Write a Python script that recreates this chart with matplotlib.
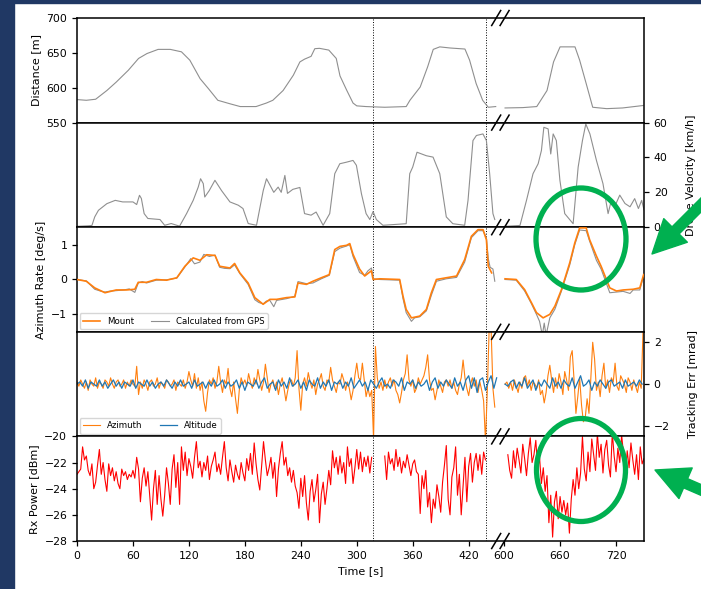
import matplotlib.pyplot as plt
import numpy as np
from matplotlib.patches import Ellipse, FancyArrowPatch, Rectangle
from matplotlib.lines import Line2D

nan = np.nan

# ---- data ----
# distance [m]
dist_t = [0, 10, 20, 32, 42, 55, 66, 75, 87, 100, 112, 121, 132, 141, 151, 164, 175, 192, 203, 210,
          221, 232, 239, 244, 251, 255, 260, 270, 278, 282, 289, 296, 300, 310, 330, 353, 357, 368,
          376, 382, 389, 400, 416, 421, 428, 435, 441, 449, 520,
          601, 620, 635, 646, 653, 660, 676, 681, 688, 695, 710, 727, 749]
dist_v = [583, 582, 583.5, 596, 608, 625, 642, 649, 655, 655, 651.5, 639.5, 613, 598.6, 582, 577, 573,
          573, 578, 582, 596, 618, 637, 641, 645, 656, 656.5, 654, 642, 617, 597, 578, 574, 573, 572,
          573, 582, 601, 630, 655, 658.6, 657, 655.5, 639.5, 606, 582, 572, 573, nan,
          571, 571.5, 573, 596, 637, 658.6, 658.6, 639.5, 606, 572, 570, 571, 574.5]

# drone velocity [km/h]
vel_t = [0, 12, 16, 19, 23, 32, 41, 49, 60, 64, 67, 69, 72, 76, 89, 94, 101, 110, 117.5, 124.6, 130,
         132.5, 135.4, 137, 141.8, 147.9, 155, 164, 173, 178, 183.6, 192.5, 199.7, 203.2, 211, 215.7,
         219, 222.9, 225.7, 231.4, 239, 244, 251, 256.4, 263.9, 271, 276.4, 281.8, 289, 296, 299.6,
         305, 310, 314, 317.5, 321, 328, 353, 356.8, 360, 364.6, 374.6, 381.8, 389, 396, 403, 415.7,
         419.3, 424.6, 428.3, 435.3, 439, 442.5, 446, 448, 520,
         601, 617, 624, 631, 636.5, 640, 642.6, 647.2, 650, 652.6, 656, 659.8, 665, 674, 679.4, 684,
         687.6, 692, 699, 706, 711.5, 715, 718.5, 724, 729.6, 735, 740, 744, 747.5, 750]
vel_v = [0.5, 0.8, 1, 5.9, 9.7, 13.5, 15.4, 14.5, 14.5, 13, 18.3, 16.5, 7.8, 5, 4.4, 1.1, 2.1, 0.6, 7.8,
         15.4, 23, 27.8, 25, 17.3, 21, 26.9, 21, 14.5, 12.6, 10.7, 2.1, 1.1, 21, 27.8, 20, 23, 20, 29.7,
         19.4, 21.7, 22.8, 7.8, 6.9, 8.7, 1.1, 7.8, 30.7, 36.4, 37.3, 38.3, 35.5, 19.2, 7.8, 4.4, 9,
         4.4, 1.1, 2, 30.7, 34.5, 43, 41, 40.2, 30.7, 5.9, 2, 1.1, 15.4, 49.7, 52.6, 53.5, 49.7, 30.7,
         7.8, 4.4, nan,
         0.5, 1, 15.4, 30.7, 36.4, 44, 57.3, 56.4, 42, 53.5, 49.7, 27, 7.8, 2, 34.5, 49.7, 59.2, 53.5,
         38.3, 25, 7.8, 15.4, 11.7, 18.4, 13.6, 11.7, 16.4, 10.7, 15.4, 10]

# azimuth rate [deg/s] - mount
mount_t = [0, 10, 19, 30, 42, 53, 62, 65.7, 74.6, 85, 96, 107, 115.7, 124.6, 131.8, 139, 148, 153, 164,
           169, 174.6, 183.5, 190.7, 199.6, 206.8, 214, 224.6, 233.6, 237, 246, 253, 262, 270.5, 276.4,
           282, 289, 292.5, 296, 303, 308.5, 315.7, 317.5, 324.6, 346, 349.6, 353, 358.6, 367.5, 374.6,
           380, 385.4, 396, 407, 415.7, 422.9, 430, 435.4, 439, 441, 444.6, 520,
           601, 613, 622, 629.4, 634.7, 641.8, 649, 654.5, 661.5, 670.4, 675.8, 681, 688, 691.7, 699,
           704, 713.3, 720.5, 727.7, 738.4, 745.5, 749.6]
mount_v = [0, -0.05, -0.24, -0.38, -0.3, -0.3, -0.28, -0.08, -0.08, 0, -0.02, 0.05, 0.38, 0.62, 0.55,
           0.71, 0.69, 0.38, 0.33, 0.46, 0.19, -0.1, -0.52, -0.71, -0.57, -0.57, -0.52, -0.5, -0.1,
           -0.14, -0.05, 0.05, 0.14, 0.86, 0.95, 0.98, 1.03, 0.72, 0.3, 0.1, 0.25, 0.0, 0.02, 0.0,
           -0.48, -0.86, -1.1, -1.05, -0.86, -0.38, 0, 0.05, 0.1, 0.57, 1.24, 1.43, 1.43, 1.14, 0.38,
           0.19, nan,
           0.02, 0, -0.29, -0.67, -0.95, -1.1, -1.0, -0.76, -0.29, 0.48, 1.05, 1.48, 1.48, 1.14, 0.67,
           0.38, -0.24, -0.33, -0.3, -0.28, -0.24, 0.14]

# azimuth rate [deg/s] - calculated from GPS
gps_t = [0, 10, 19, 25, 30, 36, 42, 50, 56, 62, 65.7, 70, 74.6, 85, 96, 107, 115.7, 122, 126, 131.8,
         136, 142, 148, 153, 158, 164, 169, 174.6, 183.5, 190.7, 195, 199.6, 203, 206.8, 211, 214,
         224.6, 233.6, 237, 246, 253, 262, 270.5, 276.4, 282, 289, 292.5, 296, 303, 308.5, 312, 315.7,
         318, 324.6, 346, 349.6, 353, 358.6, 362, 367.5, 374.6, 380, 385.4, 396, 407, 415.7, 422.9,
         430, 435.4, 439, 441, 443, 446, 448, 520,
         601, 613, 622, 629.4, 634.7, 638, 641, 643, 645, 649, 654.5, 661.5, 670.4, 675.8, 681, 688,
         691.7, 699, 704, 713.3, 720.5, 727.7, 735, 738.4, 745.5, 749.6]
gps_v = [0, -0.04, -0.28, -0.33, -0.36, -0.33, -0.32, -0.3, -0.27, -0.37, -0.1, -0.06, -0.1, -0.02,
         -0.01, 0.04, 0.36, 0.6, 0.45, 0.5, 0.72, 0.66, 0.7, 0.35, 0.32, 0.31, 0.42, 0.17, -0.14, -0.58,
         -0.66, -0.7, -0.62, -0.6, -0.78, -0.6, -0.55, -0.48, -0.06, -0.12, -0.1, 0.02, 0.12, 0.8, 0.9,
         0.96, 1.0, 0.66, 0.2, 0.12, 0.25, 0.33, 0.02, 0.0, -0.02, -0.55, -0.95, -1.2, -1.1, -1.07,
         -0.9, -0.45, -0.05, 0.02, 0.06, 0.5, 1.2, 1.4, 1.4, 1.2, 0.6, 0.35, 0.3, -0.05, nan,
         0.0, -0.02, -0.33, -0.7, -1.0, -1.2, -1.6, -1.25, -1.6, -1.1, -0.85, -0.33, 0.42, 1.0, 1.42,
         1.4, 1.1, 0.55, 0.3, -0.38, -0.36, -0.34, -0.4, -0.3, -0.3, 0.1]

# tracking error azimuth [mrad], 2 s steps
az_err_a = [0.1, -0.1, 0.2, 0.0, -0.2, 0.1, -0.3, 0.2, 0.0, -0.1, 0.3, -0.2, 0.1, 0.0, -0.2, 0.2,
            0.1, -0.1, 0.3, 0.0, -0.2, 0.1, 0.2, -0.1, 0.0, 0.2, -0.2, 0.1, -0.1, 0.2, 0.0, -0.1,
            0.85, -0.5, 0.1, -0.2, 0.2, 0.0, -0.3, 0.1, 0.2, -0.1, 0.0, 0.3, -0.2, 0.1, 0.0, -0.2,
            0.2, 0.1, -0.1, 0.0, 0.2, -0.3, 0.1, 0.0, -0.1, 0.2, -0.2, 0.1, 0.6, 0.2, -0.1, 0.5,
            -0.2, 0.3, -0.3, 0.1, -0.8, -1.3, -0.4, 0.2, 0.0, 0.3, -0.2, 0.1, 0.85, 0.1, -0.4, 0.2,
            0.0, 0.75, -0.2, -0.6, 0.1, -0.7, -1.4, -0.3, 0.3, 0.0, 0.2, -0.1, 0.5, 0.1, -0.2, 0.3,
            0.0, 0.7, 0.2, -0.3, 0.1, 0.95, 0.3, -0.4, 0.0, 0.2, -0.2, 0.1, -0.5, 0.0, 0.3, -0.2,
            -0.8, -0.3, 0.1, 0.2, -0.1, 0.3, 1.6, -0.2, -1.25, 0.0, 0.3, -0.1, 0.55, 0.1, -0.2, 0.2,
            -0.5, 0.0, 0.2, 0.5, -0.1, -0.3, 0.2, 0.1, 0.8, 0.2, -0.1, -0.4, 0.1, 0.0, 0.5, 0.2,
            -0.3, 0.1, -0.2, -0.75, -0.3, 0.4, 1.0, 0.3, 0.2, 1.0, 0.2, -0.6, -0.2, -0.6, -0.3, -2.6,
            1.8, 0.3, -0.2, 0.1, -0.3, 0.2, -0.2, 0.1, 0.3, -0.1, 0.2, -0.3, -0.5, -0.9, -0.4, 0.2,
            0.5, 1.4, 0.2, -0.1, 0.2, -0.4, -0.2, 0.3, 0.0, 0.2, 0.4, 0.8, 1.4, 0.2, -0.3, -0.2,
            -0.75, -0.3, 0.2, -0.1, -0.4, 0.1, 0.2, -0.1, 0.2, -0.2, 0.1, -0.3, -0.5, 0.0, 0.3, 1.15,
            0.3, -0.2, -0.55, 0.0, 0.3, -0.1, 0.2, -0.4, 0.1, -0.3, -0.8, -2.7, -0.3, 2.7, 2.7, -0.2,
            -1.1]
az_err_b = [0.0, 0.1, -0.2, 0.1, -0.3, 0.2, -0.1, -0.4, 0.1, -0.2, 0.3, 0.4, -0.1, 0.2, -0.3, 0.1,
            0.0, -0.2, 0.2, -0.5, -0.3, -0.9, -0.4, 0.4, 0.9, 0.2, -0.4, 0.3, -0.2, 0.5, 0.1, -0.5,
            0.6, 0.2, -0.3, 1.3, 1.6, 0.2, -1.4, -0.6, 0.3, -1.0, -1.8, -1.6, -0.7, -1.4, 0.3, 2.0,
            1.2, -0.3, 0.1, -0.6, 0.4, 1.0, -0.2, 0.2, -0.4, 0.3, 0.1, 1.0, -0.1, -0.3, 0.4, 0.2,
            0.0, -0.4, 0.3, 0.1, -0.3, 0.2, -0.1, -0.4, 0.1, -0.2, 2.6]

# tracking error altitude [mrad], 3 s steps
alt_err_a = [0.0, 0.1, -0.1, 0.2, -0.2, 0.1, 0.0, -0.1, 0.2, -0.1,
             0.1, -0.2, 0.0, 0.2, -0.1, 0.1, -0.2, 0.1, 0.0, -0.1,
             0.2, -0.2, 0.1, 0.0, -0.1, 0.2, -0.1, 0.1, -0.2, 0.0,
             0.1, -0.1, 0.2, 0.0, -0.2, 0.1, -0.1, 0.2, -0.1, 0.0,
             0.1, -0.2, 0.2, -0.1, 0.0, 0.1, -0.2, 0.1, -0.1, 0.2,
             -0.1, 0.0, 0.2, -0.2, 0.1, -0.1, 0.0, 0.2, -0.2, 0.1,
             -0.3, 0.1, 0.0, -0.1, 0.2, -0.2, 0.1, 0.3, -0.2, 0.0,
             0.1, -0.3, 0.2, -0.1, 0.1, -0.2, 0.3, -0.1, 0.0, 0.2,
             -0.2, 0.1, -0.3, 0.2, 0.0, -0.1, 0.3, -0.2, 0.1, -0.1,
             0.2, -0.3, 0.1, 0.0, 0.2, -0.2, 0.1, -0.1, 0.3, -0.2,
             0.0, 0.2, -0.1, 0.1, -0.3, 0.2, 0.0, -0.2, 0.1, 0.3,
             -0.1, 0.0, -0.2, 0.2, 0.1, -0.1, 0.3, -0.3, 0.1, 0.0,
             0.2, -0.2, 0.1, -0.1, 0.0, 0.2, -0.3, 0.1, 0.3, -0.2,
             0.1, -0.1, 0.2, 0.0, -0.2, 0.3, -0.1, 0.1, -0.3, 0.2,
             0.4, -0.2, 0.3, -0.4, 0.2, 0.3, -0.3, 0.1, 0.4, -0.2,
             0.3]
alt_err_b = [0.0, -0.1, 0.1, 0.2, -0.2, 0.1, -0.1, 0.3, -0.2, 0.0,
             0.2, -0.3, 0.1, -0.1, 0.2, 0.0, -0.2, 0.3, -0.1, 0.1,
             -0.2, 0.2, 0.0, -0.1, 0.3, -0.2, 0.1, 0.4, -0.1, 0.0,
             0.2, -0.3, 0.1, -0.1, 0.2, 0.0, -0.2, 0.1, 0.2, -0.1,
             0.0, 0.1, -0.2, 0.2, -0.1, 0.0, 0.1, -0.1, 0.2, 0.0]

# received power [dBm], 2 s steps
rx_a = [-22.9, -22.7, -22.5, -20.8, -21.8, -21.5, -22.6, -23.0, -22.1, -24.0, -23.5, -22.2, -21.0,
        -22.9, -22.0, -23.3, -24.2, -22.1, -23.0, -22.4, -23.4, -22.7, -23.6, -24.0, -22.5, -23.0,
        -22.7, -23.3, -22.9, -23.1, -22.6, -23.2, -21.6, -22.5, -25.0, -23.2, -22.4, -23.8, -22.7,
        -24.6, -26.4, -24.0, -22.6, -25.2, -23.0, -24.8, -26.1, -24.5, -22.4, -23.6, -25.2, -22.5,
        -21.4, -23.9, -22.0, -25.2, -20.8, -22.6, -21.2, -23.0, -21.7, -22.3, -23.2, -21.6, -20.4,
        -22.4, -21.9, -23.1, -22.0, -22.6, -21.5, -23.3, -22.3, -21.8, -21.2, -22.7, -22.1, -22.9,
        -21.6, -20.4, -22.4, -23.4, -21.8, -22.7, -23.5, -22.2, -22.9, -23.3, -22.0, -22.8, -23.4,
        -21.7, -22.6, -21.3, -22.9, -20.5, -22.1, -23.3, -24.1, -22.2, -20.4, -21.8, -23.0, -22.4,
        -21.6, -23.2, -22.0, -24.6, -22.5, -21.3, -20.4, -22.2, -21.6, -23.0, -22.4, -23.5, -22.6,
        -23.8, -24.3, -25.5, -23.2, -24.6, -23.0, -25.1, -26.4, -24.2, -23.3, -25.0, -24.1, -22.9,
        -26.6, -24.4, -23.5, -25.2, -24.0, -22.6, -23.7, -21.1, -22.4, -21.6, -22.9, -21.5, -22.8,
        -22.0, -23.6, -20.8, -22.3, -21.7, -23.6, -22.4, -21.0, -22.5, -21.2, -22.7, -21.6, -22.3,
        -21.5, -22.8, -21.6]
rx_b = [-21.5, -23.3, -21.2, -22.1, -21.7, -22.6, -21.0, -22.3, -21.6, -22.8, -21.9, -22.4, -21.4,
        -22.2, -23.0, -22.1, -21.8, -22.7, -22.9, -25.9, -23.0, -24.0, -22.6, -25.4, -24.3, -26.6,
        -24.8, -25.5, -23.7, -24.6, -25.8, -23.5, -22.2, -20.7, -24.8, -26.0, -23.1, -22.4, -20.8,
        -24.5, -22.9, -26.0, -23.8, -21.6, -25.0, -22.3, -21.3, -23.5, -22.0, -21.3, -22.6, -21.4,
        -22.9, -21.2, -21.8]
rx_c = [-21.4, -22.6, -23.2, -21.1, -22.4, -20.9, -21.8, -22.8, -20.6, -21.7, -23.0, -21.3, -20.1,
        -22.0, -21.4, -20.3, -22.5, -21.6, -23.6, -22.4, -24.2, -23.0, -26.6, -24.5, -27.7, -25.0,
        -24.2, -26.3, -24.6, -25.8, -24.9, -26.0, -25.1, -27.4, -24.8, -23.3, -24.5, -22.4, -24.0,
        -22.8, -20.0, -22.5, -23.4, -21.2, -22.7, -20.2, -21.4, -22.6, -19.8, -21.6, -20.6, -22.8,
        -21.0, -20.3, -22.2, -23.1, -19.7, -21.5, -22.7, -20.9, -22.0, -19.9, -21.3, -23.0, -21.1,
        -22.4, -20.5, -21.8, -22.9, -21.4, -23.3, -20.8, -22.1, -21.7]

events = [317, 438.6]
time_ticks = [0, 60, 120, 180, 240, 300, 360, 420, 600, 660, 720]


def series(start, step, vals):
    return start + step * np.arange(len(vals)), np.array(vals)


def join(*parts):
    ts, vs = [], []
    for t, v in parts:
        ts += [t, [t[-1] + 1]]
        vs += [v, [nan]]
    return np.concatenate(ts), np.concatenate(vs)


az_t, az_v = join(series(0, 2, az_err_a), series(601, 2, az_err_b))
alt_t, alt_v = join(series(0, 3, alt_err_a), series(601, 3, alt_err_b))
rx_t, rx_v = join(series(0, 2, rx_a), series(330, 2, rx_b), series(604, 2, rx_c))

# broken time axis: 452..598 s squeezed into a few seconds
L_BRK, R_BRK, GAP = 452.0, 598.0, 4.0


def fwd(t):
    t = np.asarray(t, dtype=float)
    return np.where(t <= L_BRK, t,
                    np.where(t >= R_BRK, t - (R_BRK - L_BRK) + GAP,
                             L_BRK + (t - L_BRK) * GAP / (R_BRK - L_BRK)))


def inv(u):
    u = np.asarray(u, dtype=float)
    return np.where(u <= L_BRK, u,
                    np.where(u >= L_BRK + GAP, u + (R_BRK - L_BRK) - GAP,
                             L_BRK + (u - L_BRK) * (R_BRK - L_BRK) / GAP))


W, H = 701, 589
fig, axs = plt.subplots(5, 1, figsize=(W / 100, H / 100), dpi=100, sharex=True,
                        gridspec_kw=dict(hspace=0))
fig.subplots_adjust(left=77 / W, right=644 / W, top=1 - 18 / H, bottom=1 - 541 / H)

GRAY = '#8f8f8f'
ORANGE = '#ff7f0e'
BLUE = '#1f77b4'

a1, a2, a3, a4, a5 = axs
a1.plot(dist_t, dist_v, color=GRAY, lw=0.8)
a1.set_ylim(550, 700)
a1.set_yticks([550, 600, 650, 700])
a1.set_ylabel('Distance [m]')

a2.plot(vel_t, vel_v, color=GRAY, lw=0.8)
a2.set_ylim(0, 60)
a2.set_yticks([0, 20, 40, 60])
a2.yaxis.tick_right()
a2.yaxis.set_label_position('right')
a2.set_ylabel('Drone Velocity [km/h]', labelpad=13)

a3.plot(mount_t, mount_v, color=ORANGE, lw=1.2, label='Mount', zorder=3)
a3.plot(gps_t, gps_v, color=GRAY, lw=0.8, label='Calculated from GPS', zorder=2)
a3.set_ylim(-1.5, 1.5)
a3.set_yticks([-1, 0, 1])
a3.set_ylabel('Azimuth Rate [deg/s]')
a3.legend(loc='lower left', ncol=2, fontsize=6.2, borderaxespad=0.3)

a4.plot(az_t, az_v, color=ORANGE, lw=0.8, label='Azimuth')
a4.plot(alt_t, alt_v, color=BLUE, lw=0.9, label='Altitude')
a4.set_ylim(-2.5, 2.5)
a4.set_yticks([-2, 0, 2])
a4.yaxis.tick_right()
a4.yaxis.set_label_position('right')
a4.set_ylabel('Tracking Err [mrad]', labelpad=13)
a4.legend(loc='lower left', ncol=2, fontsize=6.2, borderaxespad=0.3)

a5.plot(rx_t, rx_v, color='red', lw=0.8)
a5.set_ylim(-28, -20)
a5.set_yticks([-28, -26, -24, -22, -20])
a5.set_ylabel('Rx Power [dBm]')
a5.set_xlabel('Time [s]', fontsize=8)

for ax in axs:
    ax.set_xscale('function', functions=(fwd, inv))
    ax.set_xlim(0, 750)
    for ev in events:
        ax.axvline(ev, color='k', ls=':', lw=0.7, zorder=1)
    for s in ax.spines.values():
        s.set_linewidth(1.1)
    ax.tick_params(labelsize=7.8, length=3.5, width=0.9)
    ax.yaxis.label.set_size(8)
    if ax is not a5:
        ax.tick_params(axis='x', bottom=False)
a5.set_xticks(time_ticks)
a5.set_xticklabels([str(v) for v in time_ticks])

# break marks "//"
x0, x1 = 77 / W, 644 / W
xc = x0 + (x1 - x0) * float(fwd(525)) / float(fwd(750))
top, bot = 1 - 18 / H, 1 - 541 / H
dx, dy = 4.5 / W, 7.5 / H
for k in range(6):
    yb = bot + k * (top - bot) / 5
    for off in (-4.2 / W, 4.2 / W):
        fig.add_artist(Line2D([xc + off - dx, xc + off + dx], [yb - dy, yb + dy],
                              color='k', lw=1.1, transform=fig.transFigure))

# slide background strips
NAVY = '#203864'
fig.add_artist(Rectangle((0, 0), 14 / W, 1, transform=fig.transFigure, color=NAVY, zorder=0))
fig.add_artist(Rectangle((0, 1 - 3 / H), 1, 3 / H, transform=fig.transFigure, color=NAVY, zorder=0))

# highlight annotations
GREEN = '#00b050'


def fpt(x, y):
    return (x / W, 1 - y / H)


for cx, cy, w, h in [(581, 239, 90, 102), (581, 470, 89, 103)]:
    fig.add_artist(Ellipse(fpt(cx, cy), w / W, h / H, transform=fig.transFigure,
                           fill=False, ec=GREEN, lw=3.8, zorder=10))
for tail, tip in [((716, 190), (652, 254)), ((722, 499), (655, 470))]:
    fig.add_artist(FancyArrowPatch(fpt(*tail), fpt(*tip), transform=fig.transFigure,
                                   arrowstyle='simple,head_length=1.0,head_width=1.0,tail_width=0.3',
                                   mutation_scale=24, color=GREEN, shrinkA=0, shrinkB=0, zorder=10))

fig.savefig('out.png', dpi=100)
